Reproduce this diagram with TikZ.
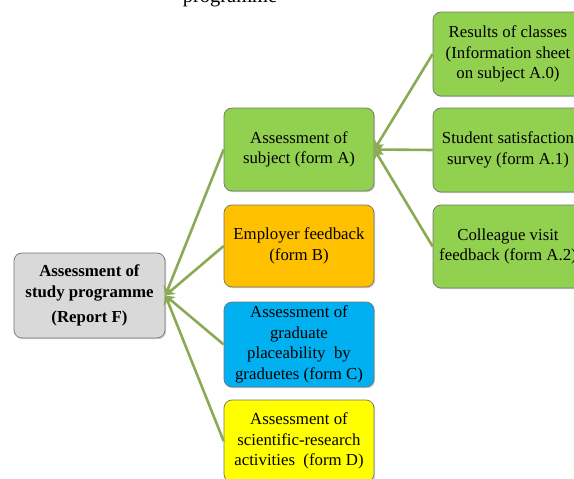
\documentclass[tikz,border=0pt]{standalone}
\usepackage{fontspec}
\setmainfont{Liberation Serif}
\usetikzlibrary{arrows.meta,shadows}
\definecolor{greenbox}{HTML}{92D050}
\definecolor{graybox}{HTML}{D9D9D9}
\definecolor{orangebox}{HTML}{FFC000}
\definecolor{bluebox}{HTML}{00B0F0}
\definecolor{yellowbox}{HTML}{FFFF00}
\definecolor{linkcol}{HTML}{8AAA55}
\tikzset{
  box/.style={draw=black!55, line width=0.7pt, rounded corners=8pt,
    align=center, inner sep=1pt, font=\fontsize{16.8}{20.5}\selectfont,
    drop shadow={shadow xshift=1.2pt, shadow yshift=-1.2pt, opacity=0.35}},
  link/.style={draw=linkcol, line width=2.6pt,
    -{Stealth[length=9pt,width=11pt,inset=3pt]}},
}
\begin{document}
\begin{tikzpicture}[x=1pt,y=-1pt]
\useasboundingbox (0,0) rectangle (574,479);
\clip (0,0) rectangle (574,479);

% caption fragment cut by the top edge
\node[anchor=base, font=\fontsize{20.5}{24}\selectfont, inner sep=0] (cap) at (230,2) {programme};

% report and its four forms
\node[box, fill=graybox, minimum width=151pt, minimum height=85pt] (F) at (89.5,295.5)
  {\textbf{Assessment of}\\ \textbf{study programme}\\[5pt] \textbf{(Report F)}};
\node[box, fill=greenbox, minimum width=150pt, minimum height=83pt] (A) at (299,149.5)
  {Assessment of\\ subject (form A)};
\node[box, fill=orangebox, minimum width=150pt, minimum height=82pt] (B) at (299,246)
  {Employer feedback\\ (form B)};
\node[box, fill=bluebox, minimum width=150pt, minimum height=85pt] (C) at (299,344.5)
  {Assessment of\\ graduate\\ placeability\ \ by\\ graduetes (form C)};
\node[box, fill=yellowbox, minimum width=150pt, minimum height=82pt] (D) at (299,441)
  {Assessment of\\ scientific-research\\ activities\ \ (form D)};

% inputs to form A
\node[box, fill=greenbox, minimum width=150pt, minimum height=84pt] (A0) at (508,54)
  {Results of classes\\ (Information sheet\\ on subject A.0)};
\node[box, fill=greenbox, minimum width=150pt, minimum height=84pt] (A1) at (508,150)
  {Student satisfaction\\ survey (form A.1)};
\node[box, fill=greenbox, minimum width=150pt, minimum height=83pt] (A2) at (508,246.5)
  {Colleague visit\\ feedback (form A.2)};

% connectors
\foreach \n in {A,B,C,D} \draw[link] (\n.west) -- (F.east);
\foreach \n in {A0,A1,A2} \draw[link] (\n.west) -- (A.east);
\end{tikzpicture}
\end{document}
